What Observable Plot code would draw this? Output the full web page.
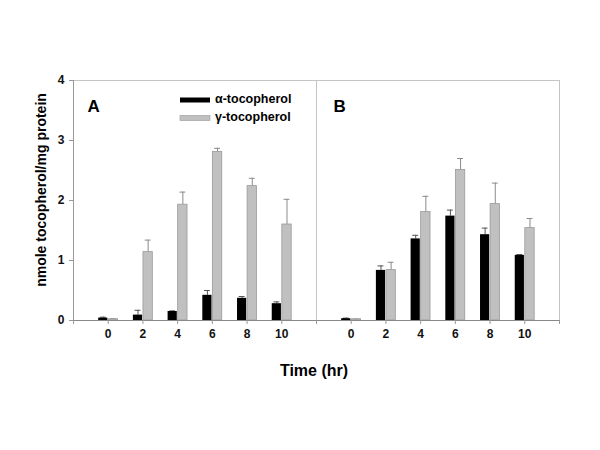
<!DOCTYPE html>
<html>
<head>
<meta charset="utf-8">
<script src="https://cdn.jsdelivr.net/npm/d3@7"></script>
<script src="https://cdn.jsdelivr.net/npm/@observablehq/plot@0.6"></script>
<style>
  body { margin: 0; background: #fff; }
  #chart { position: relative; width: 600px; height: 450px; }
  svg { font-family: "Liberation Sans", Arial, sans-serif; }
</style>
</head>
<body>
<div id="chart"></div>
<script>
const panels = ["A", "B"];
const times = [0, 2, 4, 6, 8, 10];
const xTicks = [-2, 0, 2, 4, 6, 8, 10, 12];
const xDomain = [-2, 12];
const yTicks = [0, 1, 2, 3, 4];
const seriesNames = ["α-tocopherol", "γ-tocopherol"];

const alphaA = [0.04, 0.09, 0.15, 0.42, 0.37, 0.28];
const alphaAErr = [0.015, 0.08, 0.01, 0.08, 0.03, 0.03];
const gammaA = [0.02, 1.14, 1.93, 2.81, 2.24, 1.60];
const gammaAErr = [0.01, 0.20, 0.21, 0.06, 0.13, 0.42];

const alphaB = [0.03, 0.835, 1.36, 1.74, 1.43, 1.085];
const alphaBErr = [0.01, 0.075, 0.06, 0.10, 0.11, 0.015];
const gammaB = [0.02, 0.84, 1.81, 2.51, 1.94, 1.54];
const gammaBErr = [0.005, 0.13, 0.26, 0.19, 0.35, 0.16];

const colors = { alpha: "#000000", gamma: "#c0c0c0" };

// bar layout offsets (in time units, relative to the group center)
const barDef = {
  alpha: { lo: -0.55, hi: -0.02 },
  gamma: { lo: 0.03, hi: 0.57 }
};

const rows = [];
function add(panel, series, vals, errs) {
  vals.forEach((v, i) => rows.push({ panel, series, t: times[i], v, e: errs[i] }));
}
add("A", "alpha", alphaA, alphaAErr);
add("A", "gamma", gammaA, gammaAErr);
add("B", "alpha", alphaB, alphaBErr);
add("B", "gamma", gammaB, gammaBErr);

const alphaRows = rows.filter(d => d.series === "alpha");
const gammaRows = rows.filter(d => d.series === "gamma");
const center = d => d.t + (barDef[d.series].lo + barDef[d.series].hi) / 2;

const panelLabel = (p, dx) => Plot.text([p], {
  fx: d => d, text: d => d, frameAnchor: "top-left",
  dx, dy: 26, lineAnchor: "middle", textAnchor: "start",
  fontSize: 17, fontWeight: "bold", fill: "#000"
});

const plot = Plot.plot({
  width: 600,
  height: 450,
  marginLeft: 73,
  marginRight: 41,
  marginTop: 80,
  marginBottom: 130,
  style: { fontFamily: "Liberation Sans, Arial, sans-serif", background: "#fff" },
  fx: { domain: panels, padding: 0, axis: null, label: null },
  x: { domain: xDomain, axis: null },
  y: { domain: [0, 4], axis: null },
  marks: [
    Plot.frame({ stroke: "#c4c4c4" }),
    Plot.ruleX([{ panel: "A" }], { x: () => xDomain[0], fx: "panel", stroke: "#999" }),
    Plot.ruleX(rows, {
      fx: "panel", x: center, y1: "v", y2: d => d.v + d.e,
      stroke: d => d.series === "alpha" ? "#555" : "#8a8a8a", strokeWidth: 1
    }),
    Plot.ruleY(rows, {
      fx: "panel", y: d => d.v + d.e, x1: d => center(d) - 0.17, x2: d => center(d) + 0.17,
      stroke: d => d.series === "alpha" ? "#555" : "#8a8a8a", strokeWidth: 1
    }),
    Plot.rect(alphaRows, {
      fx: "panel", x1: d => d.t + barDef.alpha.lo, x2: d => d.t + barDef.alpha.hi,
      y1: 0, y2: "v", fill: colors.alpha
    }),
    Plot.rect(gammaRows, {
      fx: "panel", x1: d => d.t + barDef.gamma.lo, x2: d => d.t + barDef.gamma.hi,
      y1: 0, y2: "v", fill: colors.gamma, stroke: "#9a9a9a", strokeWidth: 0.8
    }),
    Plot.ruleY([0], { stroke: "#888" }),
    Plot.axisX({
      ticks: xTicks, tickSize: 4, tickPadding: 5, stroke: "#999",
      tickFormat: d => (d < 0 || d > 10) ? "" : String(d),
      fontSize: 12, fontWeight: "bold", fill: "#111", label: null
    }),
    Plot.axisY({
      ticks: yTicks, tickSize: 4, tickPadding: 5, stroke: "#999",
      tickFormat: d => String(d),
      fontSize: 12, fontWeight: "bold", fill: "#111", label: null
    }),
    panelLabel("A", 14),
    panelLabel("B", 17)
  ]
});

document.getElementById("chart").appendChild(plot);

// axis titles and legend
const svg = d3.select(plot);
svg.append("text")
  .attr("transform", "translate(42,190) rotate(-90)")
  .attr("text-anchor", "middle").attr("dominant-baseline", "middle")
  .attr("font-size", 14).attr("font-weight", "bold").attr("fill", "#000")
  .text("nmole tocopherol/mg protein");
svg.append("text")
  .attr("x", 314).attr("y", 372)
  .attr("text-anchor", "middle").attr("dominant-baseline", "middle")
  .attr("font-size", 16).attr("font-weight", "bold").attr("fill", "#000")
  .text("Time (hr)");

const leg = svg.append("g").attr("transform", "translate(180,100)");
[["alpha", seriesNames[0]], ["gamma", seriesNames[1]]].forEach(([k, name], i) => {
  const g = leg.append("g").attr("transform", `translate(0,${i * 18})`);
  g.append("rect").attr("x", 0).attr("y", -2.5).attr("width", 30).attr("height", 5)
    .attr("fill", colors[k]).attr("stroke", k === "gamma" ? "#9a9a9a" : "none").attr("stroke-width", 0.6);
  g.append("text").attr("x", 35).attr("y", 0)
    .attr("text-anchor", "start").attr("dominant-baseline", "middle")
    .attr("font-size", 12.5).attr("font-weight", "bold").attr("fill", "#000").text(name);
});
</script>
</body>
</html>
